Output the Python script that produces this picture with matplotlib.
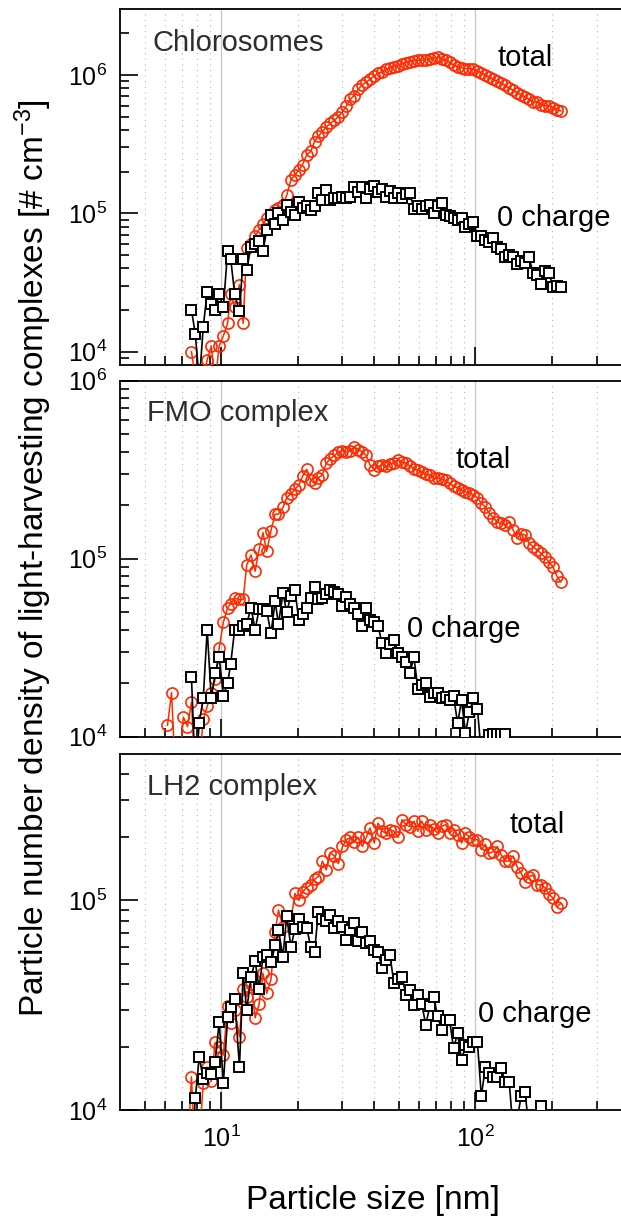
import numpy as np
import matplotlib
matplotlib.use("Agg")
import matplotlib.pyplot as plt
from matplotlib.ticker import FixedLocator, NullFormatter

nan = np.nan

# ---------------- data (number density in 10^3 # cm^-3) ----------------
size_nm = [
    6.15, 6.38, 6.61, 6.85, 7.10, 7.37, 7.64, 7.91, 8.20, 8.50,
    8.81, 9.14, 9.47, 9.82, 10.2, 10.6, 10.9, 11.3, 11.8, 12.2,
    12.6, 13.1, 13.6, 14.1, 14.6, 15.1, 15.7, 16.3, 16.8, 17.5,
    18.1, 18.8, 19.5, 20.2, 20.9, 21.7, 22.5, 23.3, 24.1, 25.0,
    25.9, 26.9, 27.9, 28.9, 30.0, 31.1, 32.2, 33.4, 34.6, 35.9,
    37.2, 38.5, 40.0, 41.4, 42.9, 44.5, 46.1, 47.8, 49.6, 51.4,
    53.3, 55.2, 57.3, 59.4, 61.5, 63.8, 66.1, 68.5, 71.0, 73.7,
    76.4, 79.1, 82.0, 85.1, 88.2, 91.4, 94.7, 98.2, 101.8, 105.5,
    109.4, 113.4, 117.6, 121.9, 126.3, 131.0, 135.8, 140.7, 145.9, 151.2,
    156.8, 162.5, 168.5, 174.7, 181.1, 187.7, 194.6, 201.7, 209.1, 216.7,
]

chloro_total = [
    nan, nan, nan, nan, nan, nan, 10, 6.5, 6, 6.5,
    8.7, 11, 6, 11, 13, 16, 26, 21, 30.5, 16,
    56, 60, 68, 76, 84, 92, 98, 105, 110, 115,
    135, 174, 190, 205, 225, 265, 280, 330, 360, 390,
    420, 450, 470, 500, 540, 600, 670, 710, 790, 850,
    890, 930, 990, 1030, 1050, 1100, 1120, 1150, 1170, 1200,
    1230, 1250, 1270, 1280, 1280, 1290, 1300, 1320, 1340, 1310,
    1280, 1240, 1180, 1150, 1130, 1110, 1110, 1100, 1070, 1040,
    1000, 960, 930, 900, 870, 840, 800, 780, 740, 720,
    690, 670, 640, 640, 610, 600, 600, 580, 560, 550,
]
chloro_zero = [
    nan, nan, nan, nan, nan, nan, 20, 13.5, 6, 15,
    27, 22, 20, 26, 21, 53, 47, 26, 19.5, 47,
    39, 57.5, 60, 63, 53, 76, 97, 84, 100, 90,
    115, 102, 98, 120, 110, 112, 105, 112, 140, 125,
    147, 125, 128, 129, 132, 128, 132, 156, 143, 156,
    129, 150, 158, 143, 150, 132, 145, 129, 140, 129,
    138, 140, 108, 112, 108, 112, 115, 100, 112, 118,
    98, 96, 92, 90, 92, 80, 84, 87, 69, 68,
    64, 62, 66, 57.5, 55, 48.5, 50, 48, 43, 45,
    44, 48, 37, 36, 31, 38, 37, 29.5, 30, 29.5,
]

fmo_total = [
    11.6, 17.7, 6, 7, 12.9, 11.4, 15.6, 6, 7, 12.5,
    14.8, 17.6, 21, 31.4, 44, 53, 56, 60, 59, 59,
    92, 105, 85, 113, 140, 110, 144, 178, 178, 194,
    220, 232, 245, 260, 290, 318, 276, 265, 285, 295,
    344, 365, 380, 398, 405, 398, 405, 426, 410, 400,
    380, 336, 317, 330, 336, 330, 340, 344, 360, 350,
    344, 330, 320, 315, 305, 298, 295, 285, 283, 280,
    275, 265, 255, 250, 242, 238, 233, 229, 220, 205,
    195, 180, 170, 160, 158, 155, 160, 145, 130, 138,
    136, 122, 117, 112, 107, 102, 96, 90, 80, 74,
]
fmo_zero = [
    nan, nan, nan, nan, nan, nan, 21.7, 6, 12, 16.4,
    40, 16.4, 22.7, 28, 17, 20, 25.7, 40, 40, 42,
    43, 53, 40, 52, 52, 51, 38, 57.5, 43, 64,
    50, 62, 67, 45, 49, 53, 60, 69, 59, 60,
    63, 67, 65, 63.5, 54, 61, 56, 53, 49, 42,
    53, 45, 44, 42, 33.5, 29.5, 33, 35, 29.5, 28,
    26.3, 22.7, 28, 18.6, 19.5, 20, 16.8, 17.5, 17.5, 16.5,
    16.8, 16, 17, 11.9, 16, 10.5, 13.8, 16.4, 14.4, 8,
    8.5, 10.2, 10.3, 10.3, 10.4, 10.4, nan, nan, nan, nan,
    nan, nan, nan, nan, nan, nan, nan, nan, nan, nan,
]

lh2_total = [
    nan, nan, nan, nan, nan, 6, 14.4, 6, 7, 13.4,
    16, 13.7, 21, 20, 18.3, 31.4, 26, 30, 22.4, 38,
    34.7, 40, 27.5, 32, 45, 36, 42, 71, 90, 75,
    84, 80, 108, 100, 110, 115, 119, 126, 130, 154,
    140, 169, 163, 150, 181, 195, 200, 190, 200, 181,
    200, 222, 188, 234, 214, 210, 218, 214, 200, 243,
    230, 225, 239, 214, 239, 218, 230, 220, 210, 226,
    230, 210, 218, 205, 188, 210, 200, 195, 195, 175,
    185, 168, 171, 181, 165, 154, 154, 163, 145, 135,
    123, 130, 132, 119, 119, 115, 107, 103, 93, 97,
]
lh2_zero = [
    nan, nan, nan, nan, nan, nan, 6, 11.4, 18, 14,
    15, 14.8, 16.9, 26.4, 13.4, 27.7, 31, 34, 16, 45,
    30, 43, 51.5, 38, 53.7, 55, 50.6, 61, 72, 54,
    84.5, 60, 73, 82, 75, 74, 60, 57, 88, 82,
    80, 85, 74, 79.5, 75, 65, 72, 78, 64, 71,
    62.5, 64, 58, 57, 47.5, 52, 55, 40.3, 42, 43.3,
    35.5, 37.4, 31.7, 35.5, 32, 25.5, 31.2, 34.7, 28, 24.1,
    27, 26.9, 19.7, 23.2, 17.3, 20.4, 20, 21.2, 21.2, 11.6,
    16.1, 15, 14.4, 14.4, 15.8, 13.6, 13.6, 8, 9, 11.6,
    12.2, 8, 8, 9, 10.4, nan, nan, nan, nan, nan,
]

panel_names = ["Chlorosomes", "FMO complex", "LH2 complex"]
series_total = [chloro_total, fmo_total, lh2_total]
series_zero = [chloro_zero, fmo_zero, lh2_zero]
y_limits = [(8e3, 3e6), (1e4, 1e6), (1e4, 5e5)]
y_major = [[1e4, 1e5, 1e6], [1e4, 1e5, 1e6], [1e4, 1e5]]
y_major_labels = [["$10^{4}$", "$10^{5}$", "$10^{6}$"],
                  ["$10^{4}$", "$10^{5}$", "$10^{6}$"],
                  ["$10^{4}$", "$10^{5}$"]]
x_major = [10, 100]
x_major_labels = ["$10^{1}$", "$10^{2}$"]
x_minor = [5, 6, 7, 8, 9, 20, 30, 40, 50, 60, 70, 80, 90, 200, 300]

# ---------------- style ----------------
plt.rcParams["font.family"] = ["Liberation Sans", "DejaVu Sans"]
plt.rcParams["mathtext.fontset"] = "custom"
plt.rcParams["mathtext.rm"] = "Liberation Sans"
plt.rcParams["mathtext.it"] = "Liberation Sans:italic"
plt.rcParams["mathtext.bf"] = "Liberation Sans:bold"

RED = "#ff2a00"
W, H = 621, 1216
fig = plt.figure(figsize=(W / 100, H / 100), dpi=100)

# axes frames in pixel coordinates (top, bottom)
frames = [(9, 365), (380.7, 736.7), (754, 1110)]
left_px, right_px = 120, 628.5

# text placements in pixels (x_left, baseline)
name_pos = [(153, 51), (147, 421), (147, 795)]
total_pos = [(497, 66), (455, 468), (509, 833)]
zero_pos = [(497, 226), (407, 637), (478, 1022)]

x = np.array(size_nm)
for i in range(3):
    top, bot = frames[i]
    ax = fig.add_axes([left_px / W, 1 - bot / H, (right_px - left_px) / W, (bot - top) / H])
    ax.set_xscale("log")
    ax.set_yscale("log")
    ax.set_xlim(4, 400)
    ax.set_ylim(*y_limits[i])

    ax.plot(x, np.array(series_total[i]) * 1e3, "-o", color=RED, lw=1.1,
            ms=8.0, mfc="none", mec=RED, mew=1.2, zorder=3)
    ax.plot(x, np.array(series_zero[i]) * 1e3, "-s", color="black", lw=1.2,
            ms=7.4, mfc="white", mec="black", mew=1.4, zorder=4)

    ax.xaxis.set_major_locator(FixedLocator(x_major))
    ax.xaxis.set_minor_locator(FixedLocator(x_minor))
    ax.xaxis.set_minor_formatter(NullFormatter())
    if i == 2:
        ax.set_xticks(x_major, labels=x_major_labels)
    else:
        ax.set_xticks(x_major, labels=["", ""])

    lo, hi = y_limits[i]
    ymin_list = [m * 10.0 ** e for e in range(3, 7) for m in range(2, 10)
                 if lo < m * 10.0 ** e < hi]
    ax.yaxis.set_minor_locator(FixedLocator(ymin_list))
    ax.yaxis.set_minor_formatter(NullFormatter())
    ax.set_yticks(y_major[i], labels=y_major_labels[i])

    ax.tick_params(which="major", direction="in", length=13, width=1.2,
                   labelsize=18, pad=9, top=False, right=False, color="black")
    ax.tick_params(which="minor", direction="in", length=6.5, width=1.2,
                   top=False, right=False, color="black")
    ax.tick_params(axis="x", which="major", pad=11)

    ax.grid(True, which="major", axis="x", color="#c8c8c8", lw=1.0, ls="-")
    ax.grid(True, which="minor", axis="x", color="#b4b4b4", lw=0.8, ls=(0, (1, 4)))
    ax.grid(False, axis="y", which="both")
    ax.set_axisbelow(True)

    for s in ["left", "top", "bottom"]:
        ax.spines[s].set_linewidth(1.3)
    ax.spines["right"].set_visible(False)

    fig.text(name_pos[i][0] / W, 1 - name_pos[i][1] / H, panel_names[i],
             fontsize=21, color="#2e2e2e", ha="left", va="baseline")
    fig.text(total_pos[i][0] / W, 1 - total_pos[i][1] / H, "total",
             fontsize=21, color="black", ha="left", va="baseline")
    fig.text(zero_pos[i][0] / W, 1 - zero_pos[i][1] / H, "0 charge",
             fontsize=21, color="black", ha="left", va="baseline")

fig.text(33 / W, 1 - 558.5 / H,
         "Particle number density of light-harvesting complexes [# cm$^{-3}$]",
         rotation=90, ha="center", va="center", fontsize=24)
fig.text(373 / W, 1 - 1200 / H, "Particle size [nm]",
         ha="center", va="center", fontsize=24)

fig.savefig("out.png", dpi=100)
